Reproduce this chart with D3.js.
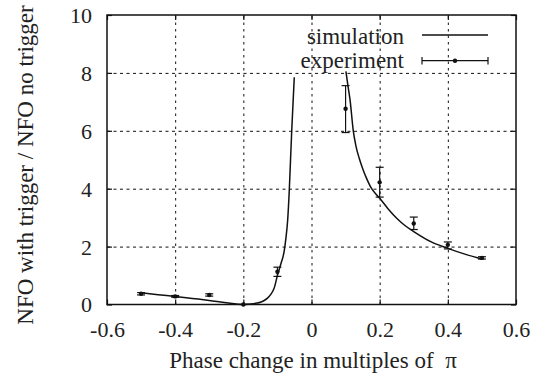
<!DOCTYPE html>
<html>
<head>
<meta charset="utf-8">
<script src="https://cdn.jsdelivr.net/npm/d3@7"></script>
<style>
  body { margin: 0; background: #fff; font-family: 'Liberation Serif', serif; }
  #canvas text { font-family: 'Liberation Serif', serif !important; }
</style>
</head>
<body>
<svg id="canvas" width="541" height="383" style="font-family: 'Liberation Serif', serif"></svg>
<script>
// simulation curve (two branches)
let simLeftX = [-0.5, -0.45, -0.4, -0.35, -0.3, -0.25, -0.22, -0.2, -0.18, -0.16, -0.15, -0.14, -0.13, -0.12, -0.11, -0.1, -0.09, -0.08, -0.075, -0.07, -0.065, -0.0615, -0.058, -0.054, -0.0505]
let simLeftY = [0.41, 0.34, 0.28, 0.21, 0.14, 0.06, 0.02, 0.0, 0.015, 0.05, 0.08, 0.13, 0.21, 0.34, 0.55, 1.0, 1.4, 1.85, 2.3, 2.9, 4.0, 5.0, 6.0, 7.0, 7.85]
let simRightX = [0.101, 0.107, 0.113, 0.1226, 0.13, 0.14, 0.15, 0.16, 0.1765, 0.19, 0.2, 0.225, 0.25, 0.275, 0.3, 0.35, 0.4, 0.45, 0.5]
let simRightY = [8.05, 7.55, 7.08, 6.0, 5.5, 5.05, 4.7, 4.4, 4.0, 3.8, 3.67, 3.3, 2.98, 2.72, 2.52, 2.17, 1.94, 1.74, 1.57]

// experiment with error bars
let expX = [-0.5, -0.4, -0.3, -0.2, -0.1, 0.1, 0.2, 0.3, 0.4, 0.5]
let expY = [0.37, 0.28, 0.33, 0.0, 1.13, 6.76, 4.22, 2.80, 2.06, 1.61]
let expLo = [0.33, 0.25, 0.29, 0.0, 0.97, 5.94, 3.71, 2.59, 1.92, 1.57]
let expHi = [0.41, 0.31, 0.37, 0.0, 1.29, 7.56, 4.74, 3.02, 2.16, 1.65]

let xTicks = [-0.6, -0.4, -0.2, 0, 0.2, 0.4, 0.6]
let yTicks = [0, 2, 4, 6, 8, 10]

const INK = '#111'
const pLeft = 107, pRight = 516, pTop = 15, pBottom = 304.5

let canvas = d3.select('#canvas')

let xScale = d3.scaleLinear().domain([-0.6, 0.6]).range([pLeft, pRight])
let yScale = d3.scaleLinear().domain([0, 10]).range([pBottom, pTop])

let label = (sel) => sel.attr('font-family', null).style('font-family', "'Liberation Serif', serif").attr('fill', '#222')

let drawGrid = () => {
    // grid lines (dashed) via axes with full-length ticks
    let gx = canvas.append('g')
        .attr('transform', 'translate(0,' + pBottom + ')')
        .call(d3.axisBottom(xScale).tickValues(xTicks.slice(1, -1)).tickSize(-(pBottom - pTop)).tickFormat(''))
    gx.select('.domain').remove()
    gx.selectAll('line').attr('stroke', INK).attr('stroke-width', 1).attr('stroke-dasharray', '2.5,4')

    let gy = canvas.append('g')
        .attr('transform', 'translate(' + pLeft + ',0)')
        .call(d3.axisLeft(yScale).tickValues(yTicks.slice(1, -1)).tickSize(-(pRight - pLeft)).tickFormat(''))
    gy.select('.domain').remove()
    gy.selectAll('line').attr('stroke', INK).attr('stroke-width', 1).attr('stroke-dasharray', '3,3.5')
}

let drawAxes = () => {
    // bottom with labels, ticks pointing inward
    let bx = canvas.append('g')
        .attr('transform', 'translate(0,' + pBottom + ')')
        .call(d3.axisBottom(xScale).tickValues(xTicks).tickSize(-5).tickFormat(d => String(d)))
    bx.select('.domain').remove()
    bx.call(label)
    bx.selectAll('line').attr('stroke', INK).attr('stroke-width', 1.2)
    bx.selectAll('text').attr('y', 32).attr('dy', null).attr('font-size', 22).call(label)

    let tx = canvas.append('g')
        .attr('transform', 'translate(0,' + pTop + ')')
        .call(d3.axisTop(xScale).tickValues(xTicks).tickSize(-5).tickFormat(''))
    tx.select('.domain').remove()
    tx.selectAll('line').attr('stroke', INK).attr('stroke-width', 1.2)

    let ly = canvas.append('g')
        .attr('transform', 'translate(' + pLeft + ',0)')
        .call(d3.axisLeft(yScale).tickValues(yTicks).tickSize(-5).tickFormat(d => String(d)))
    ly.select('.domain').remove()
    ly.call(label)
    ly.selectAll('line').attr('stroke', INK).attr('stroke-width', 1.2)
    ly.selectAll('text').attr('x', -15).attr('dy', '0.34em').attr('font-size', 22).call(label)

    let ry = canvas.append('g')
        .attr('transform', 'translate(' + pRight + ',0)')
        .call(d3.axisRight(yScale).tickValues(yTicks).tickSize(-5).tickFormat(''))
    ry.select('.domain').remove()
    ry.selectAll('line').attr('stroke', INK).attr('stroke-width', 1.2)

    canvas.append('rect')
        .attr('x', pLeft).attr('y', pTop)
        .attr('width', pRight - pLeft).attr('height', pBottom - pTop)
        .attr('fill', 'none').attr('stroke', INK).attr('stroke-width', 1.5)

    canvas.append('text')
        .attr('x', 313).attr('y', 368)
        .attr('text-anchor', 'middle')
        .attr('font-size', 23)
        .call(label)
        .text('Phase change in multiples of \u00a0\u03c0')

    canvas.append('text')
        .attr('transform', 'translate(33,165) rotate(-90)')
        .attr('text-anchor', 'middle')
        .attr('font-size', 23)
        .call(label)
        .text('NFO with trigger / NFO no trigger')
}

let drawSimulation = () => {
    let line = d3.line()
        .x(d => xScale(d[0]))
        .y(d => yScale(d[1]))
        .curve(d3.curveMonotoneX)

    let branches = [d3.zip(simLeftX, simLeftY), d3.zip(simRightX, simRightY)]
    canvas.selectAll('path.sim')
        .data(branches)
        .enter()
        .append('path')
        .attr('class', 'sim')
        .attr('d', line)
        .attr('fill', 'none')
        .attr('stroke', INK)
        .attr('stroke-width', 1.5)
}

let drawExperiment = () => {
    let pts = expX.map((x, i) => ({x: x, y: expY[i], lo: expLo[i], hi: expHi[i]}))
    let g = canvas.selectAll('g.exp')
        .data(pts)
        .enter()
        .append('g')
        .attr('class', 'exp')

    g.append('line')
        .attr('x1', d => xScale(d.x)).attr('x2', d => xScale(d.x))
        .attr('y1', d => yScale(d.lo)).attr('y2', d => yScale(d.hi))
        .attr('stroke', INK).attr('stroke-width', 1.2)
    g.append('line')
        .attr('x1', d => xScale(d.x) - 4).attr('x2', d => xScale(d.x) + 4)
        .attr('y1', d => yScale(d.hi)).attr('y2', d => yScale(d.hi))
        .attr('stroke', INK).attr('stroke-width', 1.2)
    g.append('line')
        .attr('x1', d => xScale(d.x) - 4).attr('x2', d => xScale(d.x) + 4)
        .attr('y1', d => yScale(d.lo)).attr('y2', d => yScale(d.lo))
        .attr('stroke', INK).attr('stroke-width', 1.2)
    g.append('circle')
        .attr('cx', d => xScale(d.x)).attr('cy', d => yScale(d.y))
        .attr('r', 2.2).attr('fill', INK)
}

let drawLegend = () => {
    let legend = canvas.append('g')

    legend.append('text')
        .attr('x', 404).attr('y', 44)
        .attr('text-anchor', 'end').attr('font-size', 23)
        .call(label)
        .text('simulation')
    legend.append('line')
        .attr('x1', 422).attr('x2', 488).attr('y1', 35).attr('y2', 35)
        .attr('stroke', INK).attr('stroke-width', 1.5)

    legend.append('text')
        .attr('x', 404).attr('y', 68)
        .attr('text-anchor', 'end').attr('font-size', 23)
        .call(label)
        .text('experiment')
    legend.append('line')
        .attr('x1', 422).attr('x2', 488).attr('y1', 60.7).attr('y2', 60.7)
        .attr('stroke', INK).attr('stroke-width', 1.2)
    legend.selectAll('line.cap')
        .data([422, 488])
        .enter()
        .append('line')
        .attr('class', 'cap')
        .attr('x1', d => d).attr('x2', d => d)
        .attr('y1', 57).attr('y2', 64.5)
        .attr('stroke', INK).attr('stroke-width', 1.2)
    legend.append('circle')
        .attr('cx', 455).attr('cy', 60.7).attr('r', 2.2).attr('fill', INK)
}

drawGrid()
drawSimulation()
drawExperiment()
drawAxes()
drawLegend()
</script>
</body>
</html>
